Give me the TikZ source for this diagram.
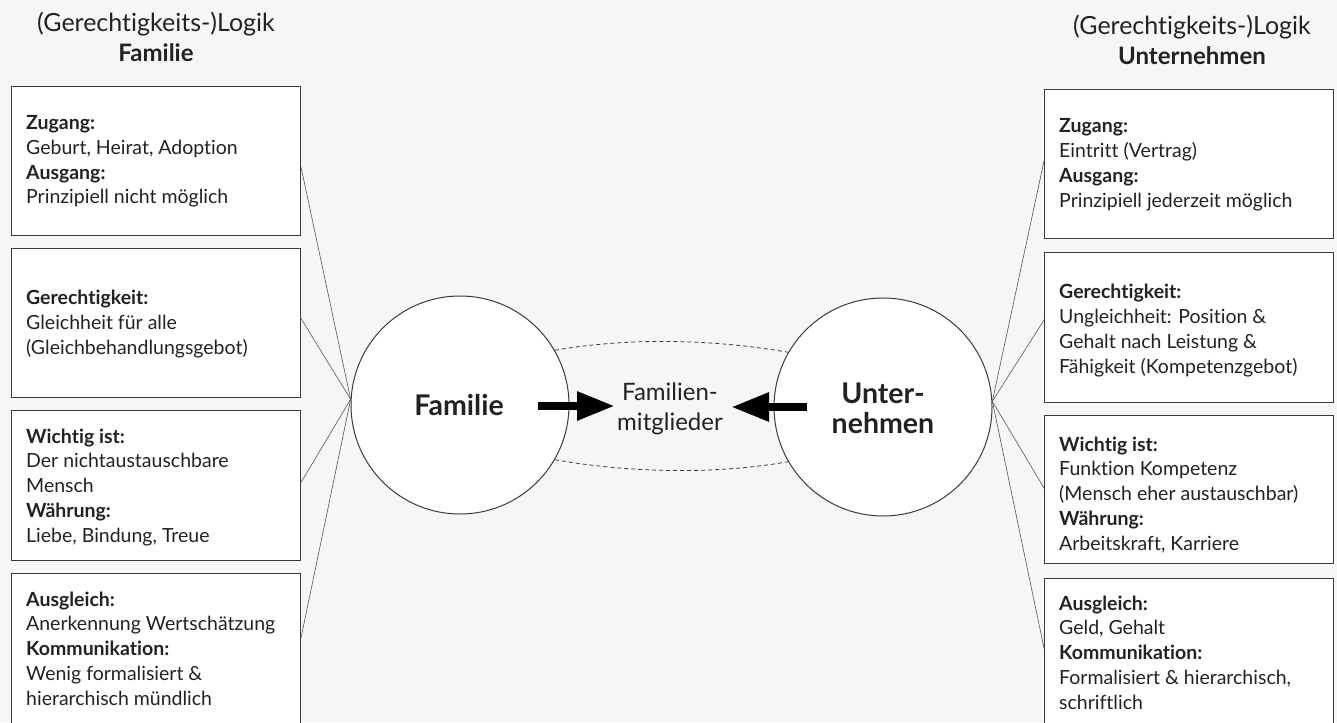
\documentclass[tikz,border=0pt]{standalone}
\usepackage{fontspec}
\setmainfont{Lato}[Ligatures=NoCommon]
\usetikzlibrary{arrows.meta,calc}
\definecolor{bg}{HTML}{F6F6F4}
\definecolor{ink}{HTML}{222222}
\definecolor{edge}{HTML}{3A3A3A}
\definecolor{connc}{HTML}{555555}
\tikzset{
  infobox/.style={draw=edge, line width=1pt, fill=white, inner sep=0pt, anchor=north west, minimum width=289pt},
  infotext/.style={text=ink, align=left, anchor=base west, inner sep=0pt, font=\fontsize{19.5}{24.7}\selectfont},
  titletext/.style={text=ink, align=center, anchor=base, inner sep=0pt, font=\fontsize{25}{30}\selectfont},
  circ/.style={circle, draw=edge, line width=1pt, fill=white, minimum size=218pt, inner sep=0pt},
  circlabel/.style={text=ink, align=center, anchor=base, inner sep=0pt, font=\bfseries\fontsize{28.5}{30}\selectfont},
  conn/.style={draw=connc, line width=0.6pt},
  dashconn/.style={draw=edge, line width=0.8pt, dash pattern=on 4pt off 3pt},
  bigarrow/.style={draw=black, line width=8.5pt, -{Triangle[length=38pt,width=27pt]}},
}
\begin{document}
\begin{tikzpicture}[x=1pt,y=-1pt]
\useasboundingbox (0,0) rectangle (1337,722);
\clip (0,0) rectangle (1337,722);
\fill[bg] (0,0) rectangle (1337,722);

% titles (anchor = baseline of last line)
\node[titletext] (TL) at (156,62) {(Gerechtigkeits-)Logik\\\textbf{\fontsize{24}{30}\selectfont Familie}};
\node[titletext] (TR) at (1192,65) {(Gerechtigkeits-)Logik\\\textbf{\fontsize{24}{30}\selectfont Unternehmen}};

% circles
\node[circ] (LC) at (460,405) {};
\node[circ] (RC) at (883,407) {};
\node[circlabel] (LCt) at (459,415) {Familie};
\node[circlabel] (RCt) at (883,433) {Unter-\\nehmen};

% boxes (left)
\node[infobox, minimum height=149pt] (L1) at (11,86) {};
\node[infobox, minimum height=149pt] (L2) at (11,248) {};
\node[infobox, minimum height=150pt] (L3) at (11,410) {};
\node[infobox, minimum height=170pt] (L4) at (11,573) {};
% boxes (right)
\node[infobox, minimum height=149pt] (R1) at (1044,89) {};
\node[infobox, minimum height=150pt] (R2) at (1044,252) {};
\node[infobox, minimum height=148pt] (R3) at (1044,415) {};
\node[infobox, minimum height=170pt] (R4) at (1044,578) {};

% connectors
\draw[conn] ($(L1.north east)!0.54!(L1.south east)$) -- (LC.177);
\draw[conn] ($(L2.north east)!0.47!(L2.south east)$) -- (LC.177);
\draw[conn] ($(L3.north east)!0.48!(L3.south east)$) -- (LC.177);
\draw[conn] ($(L4.north east)!0.38!(L4.south east)$) -- (LC.177);
\draw[conn] ($(R1.north west)!0.48!(R1.south west)$) -- (RC.3);
\draw[conn] ($(R2.north west)!0.45!(R2.south west)$) -- (RC.3);
\draw[conn] ($(R3.north west)!0.49!(R3.south west)$) -- (RC.3);
\draw[conn] ($(R4.north west)!0.41!(R4.south west)$) -- (RC.3);

% texts left (anchor = baseline of last line)
\node[infotext] (L1t) at (26,204) {\textbf{Zugang:}\\Geburt, Heirat, Adoption\\\textbf{Ausgang:}\\Prinzipiell nicht möglich};
\node[infotext] (L2t) at (26,354) {\textbf{Gerechtigkeit:}\\Gleichheit für alle\\(Gleichbehandlungsgebot)};
\node[infotext] (L3t) at (26,542) {\textbf{Wichtig ist:}\\Der nichtaustauschbare\\Mensch\\\textbf{Währung:}\\Liebe, Bindung, Treue};
\node[infotext] (L4t) at (26,705) {\textbf{Ausgleich:}\\Anerkennung Wertschätzung\\\textbf{Kommunikation:}\\Wenig formalisiert \&\\hierarchisch mündlich};
% texts right
\node[infotext] (R1t) at (1059,207) {\textbf{Zugang:}\\Eintritt (Vertrag)\\\textbf{Ausgang:}\\Prinzipiell jederzeit möglich};
\node[infotext] (R2t) at (1059,373) {\textbf{Gerechtigkeit:}\\Ungleichheit: Position \&\\Gehalt nach Leistung \&\\Fähigkeit (Kompetenzgebot)};
\node[infotext] (R3t) at (1059,550) {\textbf{Wichtig ist:}\\Funktion Kompetenz\\(Mensch eher austauschbar)\\\textbf{Währung:}\\Arbeitskraft, Karriere};
\node[infotext] (R4t) at (1059,709) {\textbf{Ausgleich:}\\Geld, Gehalt\\\textbf{Kommunikation:}\\Formalisiert \& hierarchisch,\\schriftlich};

% middle
\node[text=ink, align=center, anchor=base, inner sep=0pt, font=\fontsize{24}{30}\selectfont] (FM) at (670,430) {Familien-\\mitglieder};
\draw[dashconn] (LC.30) .. controls +(75,-13) and +(-75,-13) .. (RC.150);
\draw[dashconn] (LC.-30) .. controls +(75,13) and +(-75,13) .. (RC.210);

\coordinate (a1s) at (538,406);
\coordinate (a2s) at (807,407);
\coordinate (a1e) at (615,406);
\coordinate (a2e) at (731,407);
\draw[bigarrow] (a1s) -- (a1e);
\draw[bigarrow] (a2s) -- (a2e);
\end{tikzpicture}
\end{document}
